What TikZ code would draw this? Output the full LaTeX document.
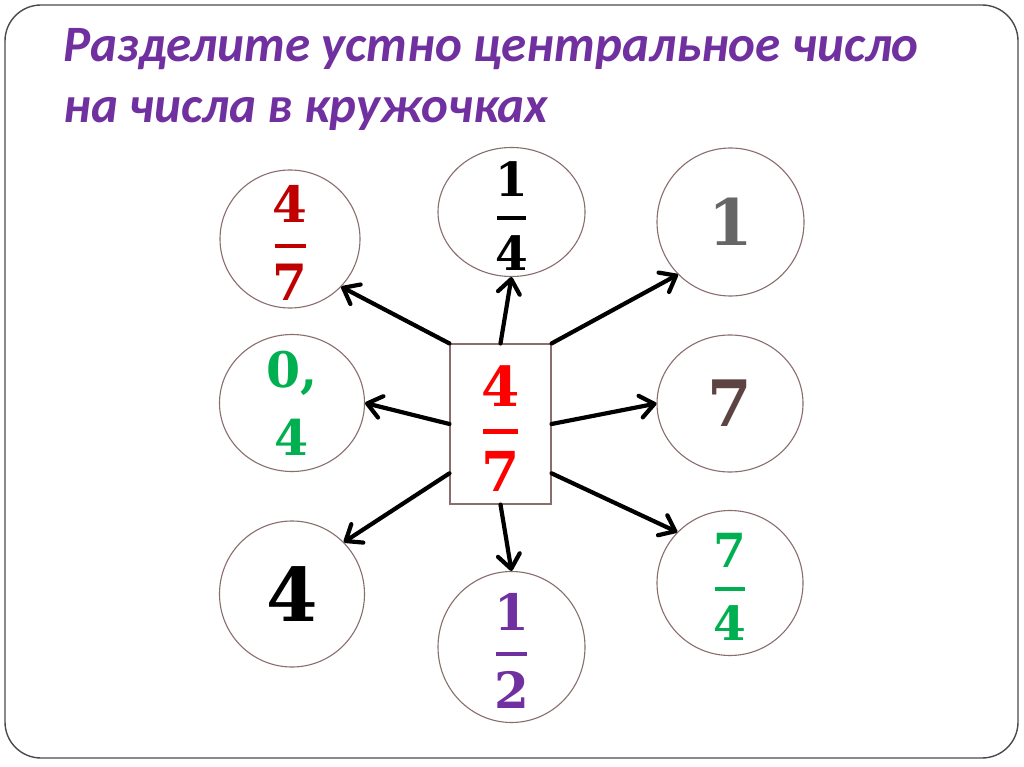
\documentclass[tikz,border=0pt]{standalone}
\usepackage{fontspec}
\setmainfont{DejaVu Serif}
\newfontfamily\titlefont{Carlito}
\usetikzlibrary{arrows.meta,shapes.geometric}

\definecolor{titlepurple}{HTML}{7030A0}
\definecolor{darkred}{HTML}{C00000}
\definecolor{brightred}{HTML}{FF0000}
\definecolor{numgreen}{HTML}{00B050}
\definecolor{numgray}{HTML}{666666}
\definecolor{numbrown}{HTML}{5E4343}
\definecolor{rimbrown}{HTML}{8A6D6D}
\definecolor{framegray}{HTML}{4A4A4A}

% numerator over a short bar over denominator
\newcommand{\stackfrac}[2]{\vbox{\offinterlineskip\kern0.17em
  \halign{\hfil##\hfil\cr #1\cr\noalign{\kern0.42em}\rule{0.62em}{0.085em}\cr
  \noalign{\kern0.32em}#2\cr}}}

\tikzset{
  ring/.style={ellipse,draw=rimbrown,line width=1.1pt,fill=white,inner sep=-24pt},
  digits/.style={font=\bfseries\fontsize{#1}{#1}\selectfont},
  pointer/.style={line width=4.2pt,line cap=round,
    -{Straight Barb[length=14pt,width=22pt,round]}}
}

\begin{document}
\begin{tikzpicture}[x=1pt,y=-1pt]
\fill[white] (0,0) rectangle (1024,767);
\useasboundingbox (0,0) rectangle (1024,767);
\draw[framegray,line width=1.4pt,rounded corners=36pt] (5,5) rectangle (1018,758);

\node[anchor=base west,text=titlepurple,
  font=\titlefont\bfseries\itshape\fontsize{51}{61}\selectfont] (title) at (60,62)
  {Разделите устно центральное число};
\node[anchor=base west,text=titlepurple,
  font=\titlefont\bfseries\itshape\fontsize{51}{61}\selectfont] (title2) at (60,123)
  {на числа в кружочках};

% centre number
\node[draw=rimbrown,line width=1.1pt,fill=white,minimum width=101pt,minimum height=160pt,
  inner sep=0pt,digits=55,text=brightred] (mid) at (500.5,424) {\stackfrac{4}{7}};

% the eight rings
\node[ring,minimum width=140pt,minimum height=138pt,digits=50,text=darkred] (tl) at (290,239) {\stackfrac{4}{7}};
\node[ring,minimum width=147pt,minimum height=129pt,digits=47] (tc) at (511.5,212) {\stackfrac{1}{4}};
\node[ring,minimum width=147pt,minimum height=148pt,digits=64,text=numgray] (tr) at (730.5,222) {1};
\node[ring,minimum width=145pt,minimum height=137pt,text=numgreen,
  align=center,font=\bfseries\fontsize{49}{68}\selectfont] (ml) at (292,403) {0,\\4};
\node[ring,minimum width=146pt,minimum height=137pt,digits=64,text=numbrown] (mr) at (730,403.5) {7};
\node[ring,minimum width=145pt,minimum height=146pt,digits=74] (bl) at (292,594) {4};
\node[ring,minimum width=147pt,minimum height=151pt,digits=50,text=titlepurple] (bc) at (511.5,647) {\stackfrac{1}{2}};
\node[ring,minimum width=146pt,minimum height=145pt,digits=47,text=numgreen] (br) at (730,583) {\stackfrac{7}{4}};

% arrows from the centre
\draw[pointer] (mid.north west) -- (tl.-43);
\draw[pointer] (mid.north) -- (tc.south);
\draw[pointer] (mid.north east) -- (tr.-135);
\draw[pointer] (mid.west) -- (ml.east);
\draw[pointer] (mid.east) -- (mr.west);
\draw[pointer] (mid.-136) -- (bl.45);
\draw[pointer] (mid.south) -- (bc.north);
\draw[pointer] (mid.-44) -- (br.136);
\end{tikzpicture}
\end{document}
